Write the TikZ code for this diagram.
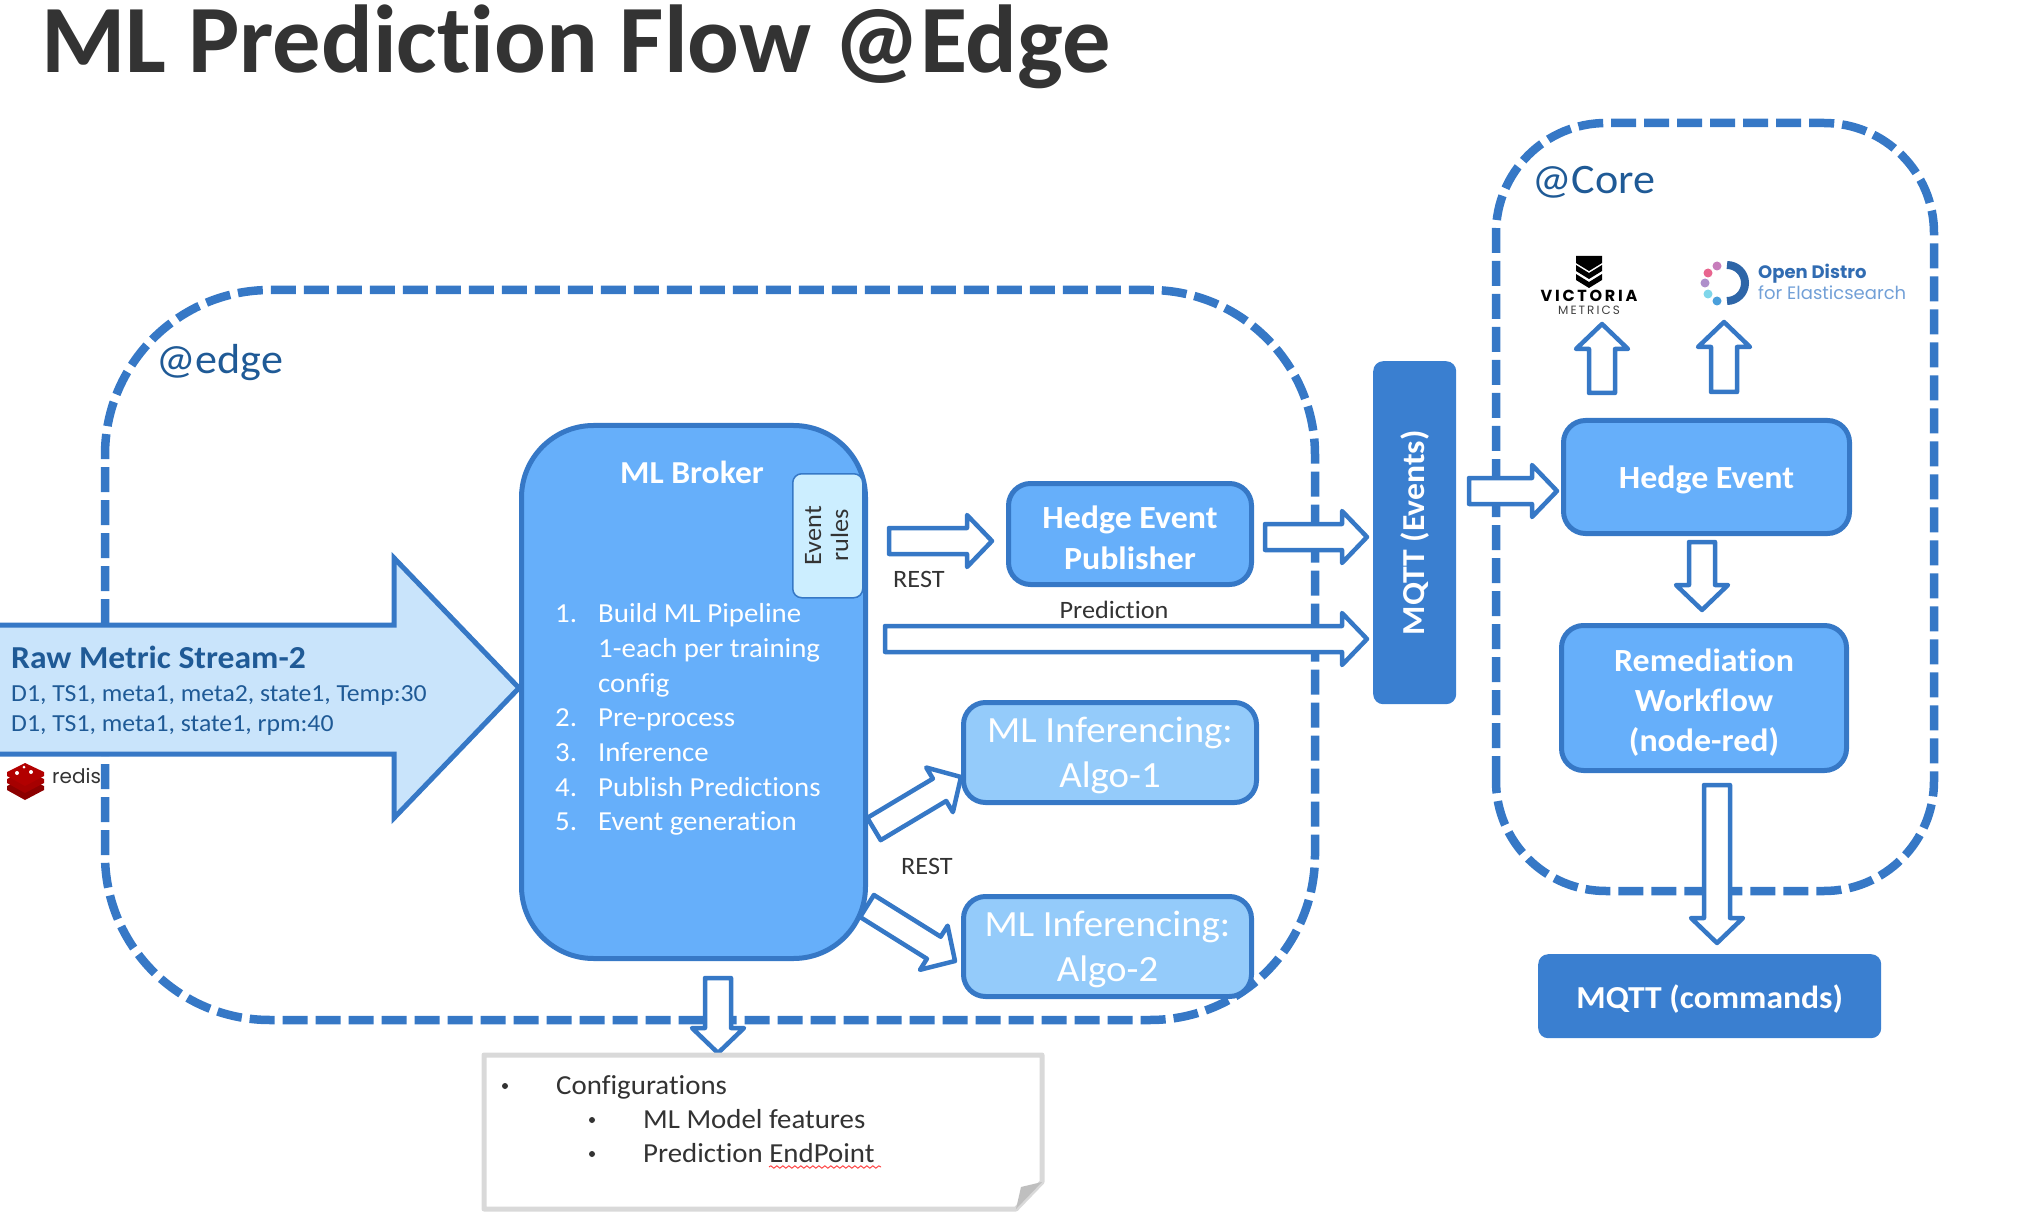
\documentclass[tikz,border=0pt]{standalone}
\usepackage{fontspec}
\setmainfont[FakeStretch=1.05,RawFeature={-liga}]{Carlito}
\newfontfamily\titlefont[RawFeature={-liga}]{Carlito}
\newfontfamily\logofont{Poppins}
\newfontfamily\victoriafont[LetterSpace=17]{Poppins}
\usetikzlibrary{calc,decorations.pathmorphing}
\definecolor{mainblue}{HTML}{3678C6}
\definecolor{darkblue}{HTML}{3A7FD0}
\definecolor{boxblue}{HTML}{66AFFA}
\definecolor{paleblue}{HTML}{94CBFA}
\definecolor{skyblue}{HTML}{C9E4FB}
\definecolor{rulesblue}{HTML}{CCEEFF}
\definecolor{textblue}{HTML}{1F5A96}
\definecolor{inktext}{HTML}{333333}
\newcommand{\fs}[1]{\fontsize{#1}{#1}\selectfont}
\begin{document}
\begin{tikzpicture}[x=1pt,y=-1pt,
   zone/.style={draw=mainblue,line width=8.5pt,dash pattern=on 25pt off 8pt},
   bluebox/.style={draw=mainblue,line width=5pt,fill=boxblue,rounded corners=22pt,text=white,align=center,font=\fs{32.3}\bfseries,inner sep=0pt,anchor=north west,text depth=0pt},
   algobox/.style={bluebox,fill=paleblue,font=\fs{37}},
   mqttbox/.style={fill=darkblue,rounded corners=10pt,text=white,font=\fs{32}\bfseries,inner sep=0pt},
   lbl/.style={text=inktext,inner sep=0pt,anchor=base west,font=\fs{25}},
   listtext/.style={text=white,inner sep=0pt,anchor=base west,font=\fs{27.5}},
   rawtext/.style={anchor=base west,inner sep=0pt,text=textblue,font=\fs{24.5}},
   block/.style={draw=mainblue,line width=4.5pt,fill=white,line join=round,
      to path={($(\tikztostart)!13pt!90:(\tikztotarget)$)
      -- ($(\tikztotarget)!#1!(\tikztostart)!13pt!90:(\tikztotarget)$)
      -- ($(\tikztotarget)!#1!(\tikztostart)!26pt!90:(\tikztotarget)$)
      -- (\tikztotarget)
      -- ($(\tikztotarget)!#1!(\tikztostart)!26pt!-90:(\tikztotarget)$)
      -- ($(\tikztotarget)!#1!(\tikztostart)!13pt!-90:(\tikztotarget)$)
      -- ($(\tikztostart)!13pt!-90:(\tikztotarget)$) -- cycle}},
   block/.default=25pt]
\useasboundingbox (0,0) rectangle (2030,1214);
\clip (0,0) rectangle (2030,1214);
\node[anchor=base west,inner sep=0pt,text=inktext,font=\titlefont\fs{96.5}\bfseries] (title) at (41,73) {ML Prediction Flow @Edge};

\draw[zone,rounded corners=165pt] (105,1020) rectangle (1315,290);
\draw[zone,rounded corners=110pt] (1496,891) rectangle (1934,123);
\node[anchor=base west,inner sep=0pt,text=textblue,font=\fs{42}] (edgelabel) at (156,374) {@edge};
\node[anchor=base west,inner sep=0pt,text=textblue,font=\fs{42}] (corelabel) at (1532,194) {@Core};

\draw[fill=skyblue,draw=mainblue,line width=5pt] (-10,625) -- (394,625) -- (394,558) -- (519,688) -- (394,818) -- (394,754) -- (-10,754) -- cycle;
\node[rawtext,font=\fs{32}\bfseries] (rawtitle) at (11,668) {Raw Metric Stream-2};
\node[rawtext] (rawone) at (11,701) {D1, TS1, meta1, meta2, state1, Temp:30};
\node[rawtext] (rawtwo) at (11,731) {D1, TS1, meta1, state1, rpm:40};

\node[bluebox,rounded corners=72pt,minimum width=344pt,minimum height=533pt] (broker) at (519,423) {};
\node[anchor=base,text=white,inner sep=0pt,font=\fs{32}\bfseries] (brokertitle) at (692,483) {ML Broker};
\node[draw=mainblue,line width=1.5pt,fill=rulesblue,rounded corners=9pt,minimum width=70pt,minimum height=124pt,inner sep=0pt,anchor=north west] (rules) at (792,473) {};
\node[rotate=90,align=center,text=inktext,font=\fs{25},inner sep=0pt] (rulestext) at ([xshift=-1pt]rules.center) {Event\\[2pt]rules};
\foreach \y/\n/\t in {622/1./Build ML Pipeline,657//1-each per training,692//config,726/2./Pre-process,761/3./Inference,796/4./Publish Predictions,830/5./Event generation} {
   \node[listtext] at (555,\y) {\n};
   \node[listtext] at (598,\y) {\t};
}

\node[bluebox,minimum width=243pt,minimum height=101pt] (publisher) at (1006,481) {\rule{0pt}{30pt}Hedge Event\\[8pt]Publisher};
\node[algobox,minimum width=293pt,minimum height=100pt] (algoone) at (961,700) {ML Inferencing:\\[8pt]Algo-1};
\node[algobox,minimum width=288pt,minimum height=100pt] (algotwo) at (961,894) {ML Inferencing:\\[8pt]Algo-2};
\node[mqttbox,anchor=north west,minimum width=83pt,minimum height=343pt] (events) at (1373,361) {};
\node[rotate=90,text=white,font=\fs{32}\bfseries,inner sep=0pt] (eventstext) at (events.center) {MQTT (Events)};
\node[bluebox,minimum width=286pt,minimum height=113pt] (hedge) at (1561,418) {Hedge Event};
\node[bluebox,minimum width=285pt,minimum height=145pt] (remedy) at (1559,623) {\rule{0pt}{27pt}Remediation\\[8pt]Workflow\\[8pt](node-red)};
\node[mqttbox,anchor=north west,minimum width=343pt,minimum height=84pt,text depth=0pt] (commands) at (1538,954) {MQTT (commands)};

\draw[block] (889,541) to (992,541);
\draw[block] (1265,537) to (1367,537);
\draw[block] (885,639) to (1367,639);
\draw[block] (1469,491) to (1557,491);
\draw[block] (1702,542) to (1702,610);
\draw[block] (1717,785) to (1717,943);
\draw[block] (874,829) to (961,777);
\draw[block] (867,906) to (955,961);
\draw[block] (718,978) to (718,1053);
\draw[block] (1602,393) to (1602,324);
\draw[block] (1724,392) to (1724,322);

\node[lbl] (restone) at (893,587) {REST};
\node[lbl] (resttwo) at (901,874) {REST};
\node[lbl,anchor=base] (predlabel) at (1114,618) {Prediction};

\draw[draw=black!15,line width=5pt,fill=white,line join=round] (484,1055) -- (1042,1055) -- (1042,1182) -- (1016,1209) -- (484,1209) -- cycle;
\fill[black!25] (1042,1182) -- (1021,1187) -- (1016,1209) -- cycle;
\foreach \x/\y/\t in {505/1094/Configurations,592/1128/ML Model features,592/1162/Prediction EndPoint} {
   \fill[inktext] (\x,\y-8) circle (3pt);
   \node[lbl,font=\fs{27.5}] at (\x+51,\y) {\t};
}
\draw[red!80,line width=0.9pt,decorate,decoration={snake,amplitude=1.2pt,segment length=6pt}] (769,1167) -- (881,1167);

\fill[black] (1576,256) -- (1602,256) -- (1602,263) -- (1589,271) -- (1576,263) -- cycle;
\foreach \y in {9,18} {
   \fill[black] (1576,256+\y) -- (1589,264+\y) -- (1602,256+\y) -- (1602,262+\y) -- (1589,270+\y) -- (1576,262+\y) -- cycle;
}
\node[anchor=base,inner sep=0pt,text=black,font=\victoriafont\fs{16}\bfseries] (victoria) at (1589,302) {VICTORIA};
\node[anchor=base,inner sep=0pt,text=black!75,font=\victoriafont\fs{12}] (metrics) at (1589,315) {METRICS};

\draw[draw=mainblue!85!black,line width=8pt] (1727,265) arc[start angle=90,end angle=-90,radius=18pt];
\foreach \x/\y/\c in {1717/266/C77DBB,1708/273/E8658F,1705/283/AE8FCB,1708/294/7FD6EA,1717/301/4A9FDB} {
   \definecolor{dot}{HTML}{\c}
   \fill[dot] (\x,\y) circle (4.5pt);
}
\node[anchor=base west,inner sep=0pt,text=mainblue!90!black,font=\logofont\fs{18}\bfseries] (opendistro) at (1758,279) {Open Distro};
\node[anchor=base west,inner sep=0pt,text=mainblue!70,font=\logofont\fs{18}] (forelastic) at (1758,300) {for Elasticsearch};

\foreach \y/\c in {14/red!55!black,7/red!65!black,0/red!70!black} {
   \fill[\c] (7,772+\y) -- (25,763+\y) -- (44,772+\y) -- (44,776+\y) -- (25,786+\y) -- (7,776+\y) -- cycle;
}
\fill[white] (17,773) circle (2pt) (31,772) circle (2pt) (24,767) circle (1.5pt);
\node[anchor=base west,inner sep=0pt,text=inktext,font=\logofont\fs{20}] (redis) at (52,783) {redis};
\end{tikzpicture}
\end{document}
